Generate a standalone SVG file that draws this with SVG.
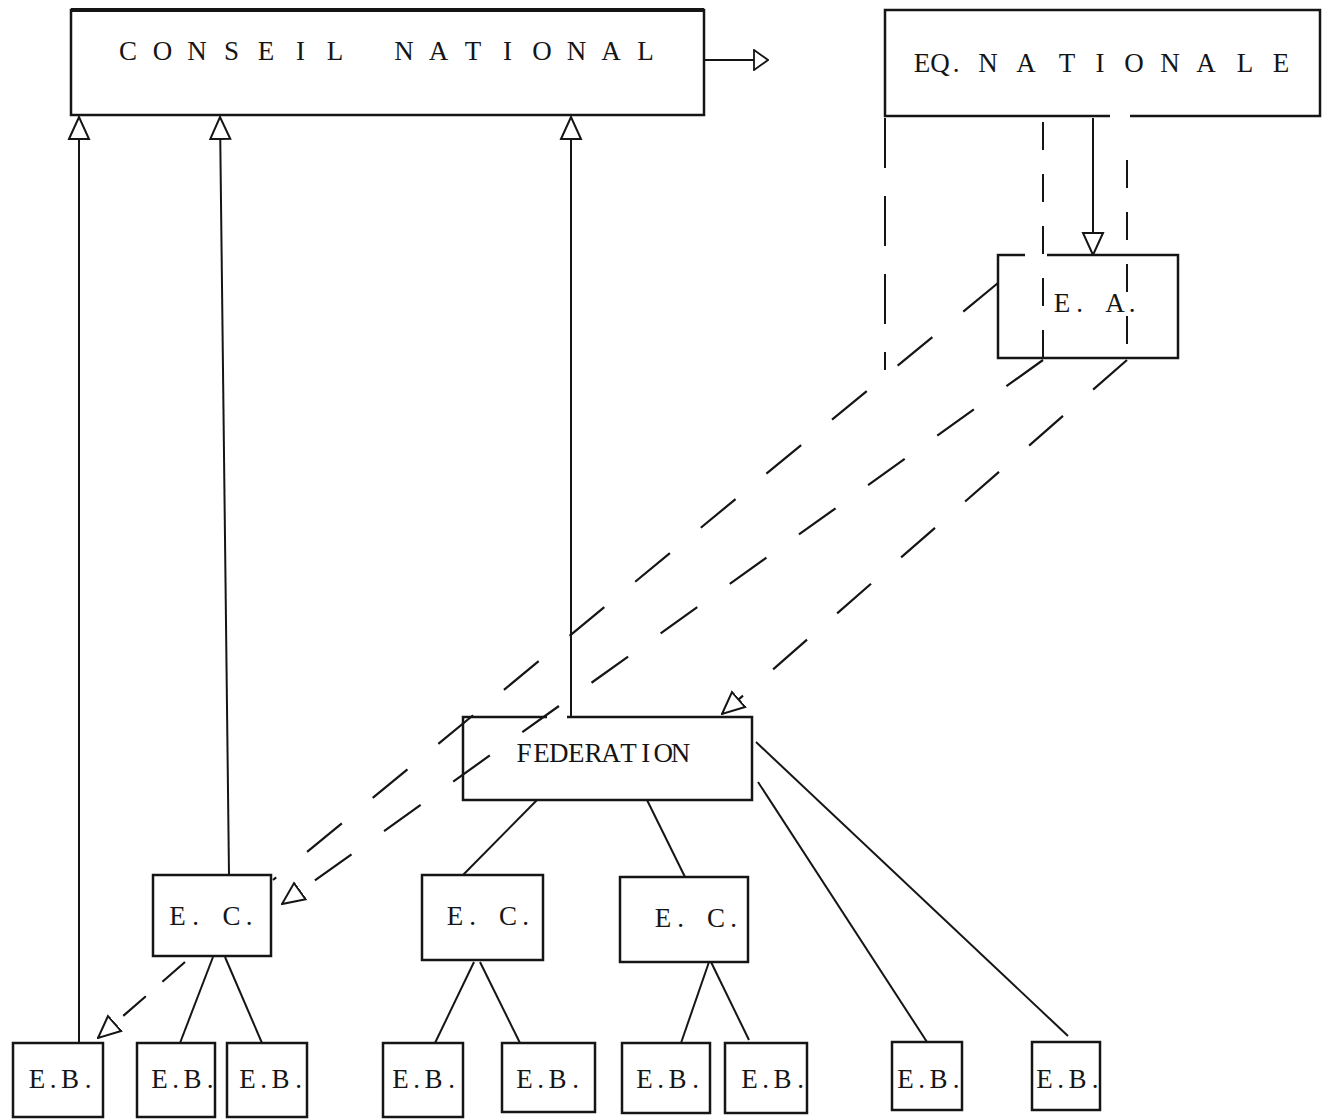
<svg xmlns="http://www.w3.org/2000/svg" width="1330" height="1119" viewBox="0 0 1330 1119">
<style>
.box{fill:none;stroke:#151515;stroke-width:2.5}
.t{font-family:"Liberation Serif","Times New Roman",serif;font-size:27px;fill:#151515;text-anchor:middle}
.ln{fill:none;stroke:#151515;stroke-width:2}
.dl{fill:none;stroke:#151515;stroke-width:2.2;stroke-dasharray:45 40}
.dv{fill:none;stroke:#151515;stroke-width:2;stroke-dasharray:50 28}
.dv2{fill:none;stroke:#151515;stroke-width:2;stroke-dasharray:28 24}
</style>
<defs>
<marker id="tri" viewBox="0 0 24 24" refX="23" refY="12" markerWidth="24" markerHeight="24" markerUnits="userSpaceOnUse" orient="auto">
<path d="M1,2 L23,12 L1,22 Z" fill="#fff" stroke="#151515" stroke-width="2" stroke-dasharray="none"/>
</marker>
<marker id="tris" viewBox="0 0 16 22" refX="15" refY="11" markerWidth="16" markerHeight="22" markerUnits="userSpaceOnUse" orient="auto">
<path d="M1,1 L15,11 L1,21 Z" fill="#fff" stroke="#151515" stroke-width="1.8" stroke-dasharray="none"/>
</marker>
</defs>
<rect width="1330" height="1119" fill="#fff"/>

<g id="connectors">
<line class="ln" x1="79" y1="1043" x2="79" y2="117" marker-end="url(#tri)"/>
<line class="ln" x1="229" y1="875" x2="220" y2="117" marker-end="url(#tri)"/>
<line class="ln" x1="571" y1="717" x2="571" y2="117" marker-end="url(#tri)"/>
<line class="ln" x1="704" y1="60" x2="768" y2="60" marker-end="url(#tris)"/>
<line class="dv" x1="885" y1="118" x2="885" y2="370"/>
<line class="dv2" x1="1043" y1="122" x2="1043" y2="358"/>
<line class="dv2" x1="1127" y1="160" x2="1127" y2="358"/>
<line class="ln" x1="1093" y1="118" x2="1093" y2="255" stroke-width="1.6" marker-end="url(#tri)"/>
<line class="dl" x1="998" y1="283" x2="273" y2="880"/>
<line class="dl" x1="1043" y1="360" x2="282" y2="904" marker-end="url(#tri)"/>
<line class="dl" x1="1127" y1="360" x2="722" y2="714" marker-end="url(#tri)"/>
<line class="dl" x1="185" y1="962" x2="98" y2="1038" marker-end="url(#tri)" style="stroke-dasharray:30 22"/>
<line class="ln" x1="537" y1="800" x2="463" y2="875"/>
<line class="ln" x1="647" y1="800" x2="685" y2="877"/>
<line class="ln" x1="758" y1="782" x2="927" y2="1042"/>
<line class="ln" x1="756" y1="742" x2="1068" y2="1036"/>
<line class="ln" x1="213" y1="957" x2="180" y2="1043"/>
<line class="ln" x1="225" y1="957" x2="262" y2="1043"/>
<line class="ln" x1="474" y1="962" x2="435" y2="1043"/>
<line class="ln" x1="480" y1="962" x2="520" y2="1043"/>
<line class="ln" x1="709" y1="962" x2="681" y2="1043"/>
<line class="ln" x1="711" y1="962" x2="749" y2="1040"/>
</g>

<g id="conseil-national">
<rect class="box" x="71" y="10" width="633" height="105"/>
<line x1="71" y1="10" x2="704" y2="10" stroke="#151515" stroke-width="4"/>
<text class="t" xml:space="preserve" y="60" x="128 145.3 162.5 179.8 197 214.3 231.5 248.8 266 283.3 300.5 317.8 335 352.3 369.5 386.8 404 421.3 438.5 455.8 473 490.3 507.5 524.8 542 559.3 576.5 593.8 611 628.3 645.5">C O N S E I L   N A T I O N A L</text>
</g>

<g id="eq-nationale">
<path class="box" d="M1110,116 H885 V10 H1320 V116 H1130"/>
<text class="t" xml:space="preserve" y="72" x="922 940 956 972 988 1007 1026 1046 1067 1083 1100 1117 1134 1152 1170 1188 1206 1225 1245 1263 1281">EQ. N A T I O N A L E</text>
</g>

<g id="ea">
<path class="box" d="M1025,255 H998 V358 H1178 V255 H1047"/>
<text class="t" xml:space="preserve" y="312" x="1062 1079.7 1097.4 1115 1132">E. A.</text>
</g>

<g id="federation">
<path class="box" d="M547,717 H463 V800 H752 V717 H567"/>
<text class="t" y="762" x="524 541.4 558.8 576.2 593.6 611 628.4 645.8 663.2 680.6">FEDERATION</text>
</g>

<g id="ec-1">
<rect class="box" x="153" y="875" width="118" height="81"/>
<text class="t" xml:space="preserve" y="925" x="177.5 195.5 213.5 231.5 249">E. C.</text>
</g>
<g id="ec-2">
<rect class="box" x="422" y="875" width="121" height="85"/>
<text class="t" xml:space="preserve" y="925" x="455 472.7 490.4 508 525.7">E. C.</text>
</g>
<g id="ec-3">
<rect class="box" x="620" y="877" width="128" height="85"/>
<text class="t" xml:space="preserve" y="927" x="663 680.7 698.4 716 733.7">E. C.</text>
</g>

<g id="eb-1"><rect class="box" x="13" y="1043" width="90" height="74"/><text class="t" y="1088" x="37 53 70 88">E.B.</text></g>
<g id="eb-2"><rect class="box" x="137" y="1043" width="78" height="74"/><text class="t" y="1088" x="159.5 175.5 192.5 210">E.B.</text></g>
<g id="eb-3"><rect class="box" x="227" y="1043" width="80" height="74"/><text class="t" y="1088" x="247.5 263.5 280.5 298.5">E.B.</text></g>
<g id="eb-4"><rect class="box" x="383" y="1043" width="80" height="74"/><text class="t" y="1088" x="400.5 416.5 433.5 451.5">E.B.</text></g>
<g id="eb-5"><rect class="box" x="502" y="1043" width="93" height="69"/><text class="t" y="1088" x="524.5 540.5 557.5 575.5">E.B.</text></g>
<g id="eb-6"><rect class="box" x="622" y="1043" width="88" height="70"/><text class="t" y="1088" x="644.5 660.5 677.5 695.5">E.B.</text></g>
<g id="eb-7"><rect class="box" x="725" y="1043" width="82" height="70"/><text class="t" y="1088" x="749.5 765.5 782.5 800.5">E.B.</text></g>
<g id="eb-8"><rect class="box" x="892" y="1042" width="70" height="68"/><text class="t" y="1088" x="905.5 921.5 938.5 956">E.B.</text></g>
<g id="eb-9"><rect class="box" x="1032" y="1042" width="68" height="68"/><text class="t" y="1088" x="1044.5 1060.5 1077.5 1095">E.B.</text></g>
</svg>
